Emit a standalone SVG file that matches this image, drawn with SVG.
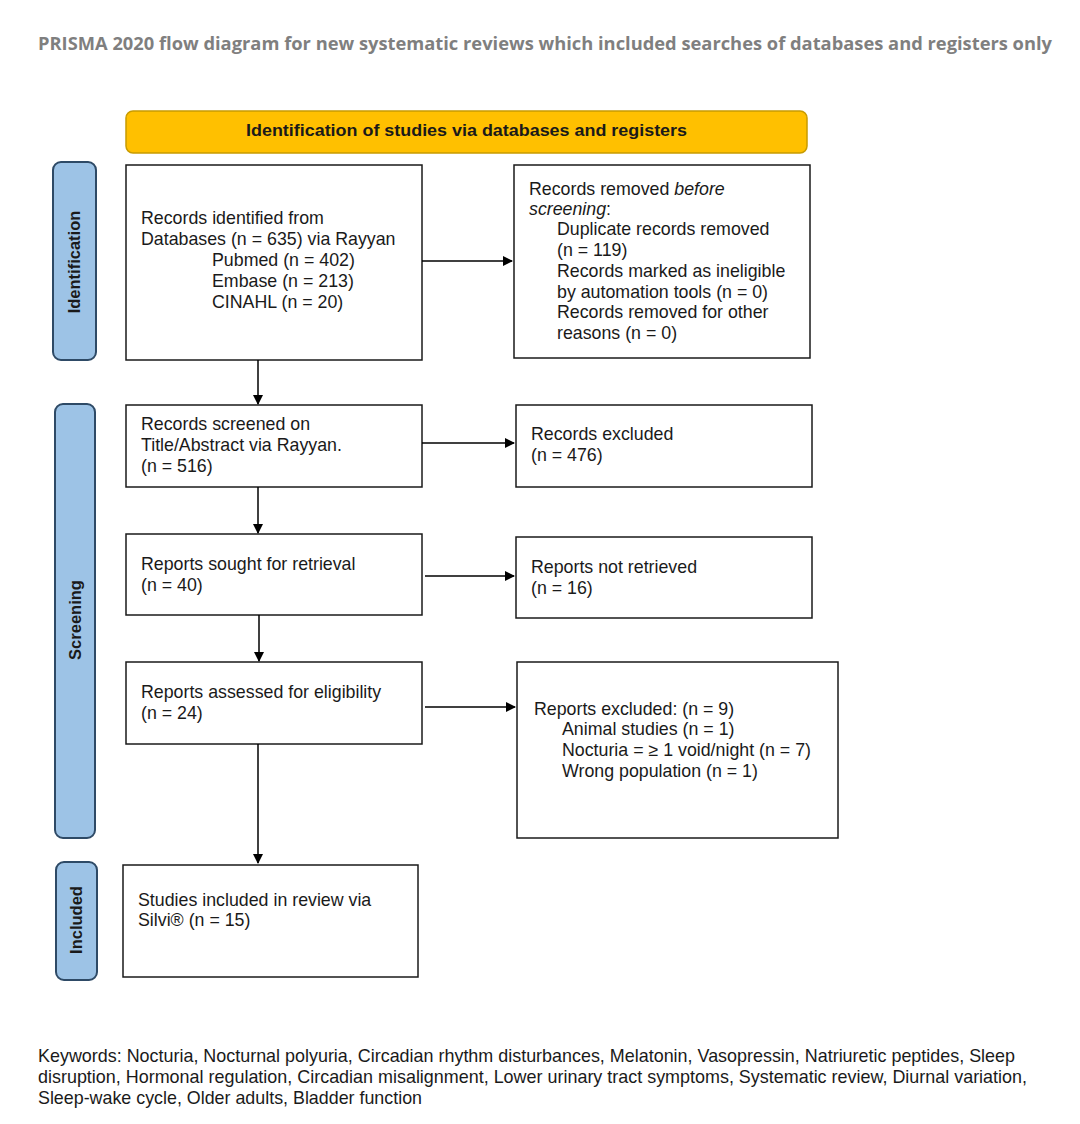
<svg xmlns="http://www.w3.org/2000/svg" width="1080" height="1124" viewBox="0 0 1080 1124">
<defs>
<style>
.t{font-family:"Liberation Sans",Arial,sans-serif;font-size:17.8px;fill:#1a1a1a}
.box{fill:#fff;stroke:#1a1a1a;stroke-width:1.5}
.side{fill:#9DC3E6;stroke:#2E4A66;stroke-width:2}
.sl{font-family:"Liberation Sans",Arial,sans-serif;font-size:16.5px;font-weight:bold;fill:#1a1a1a;text-anchor:middle}
.con{stroke:#000;stroke-width:1.5;fill:none;marker-end:url(#ah)}
</style>
<marker id="ah" markerWidth="10" markerHeight="10" refX="9" refY="5" orient="auto" markerUnits="userSpaceOnUse">
<path d="M0,0 L10,5 L0,10 Z" fill="#000"/>
</marker>
</defs>
<rect width="1080" height="1124" fill="#fff"/>
<text x="38" y="50" font-family="'Open Sans',sans-serif" font-size="17.5" font-weight="bold" fill="#7f7f7f" textLength="1014" lengthAdjust="spacingAndGlyphs">PRISMA 2020 flow diagram for new systematic reviews which included searches of databases and registers only</text>

<g id="banner">
<rect x="126" y="111" width="681" height="42" rx="7" fill="#FFC000" stroke="#C89B00" stroke-width="1.5"/>
<text x="466.5" y="136" font-family="'Liberation Sans',Arial,sans-serif" font-size="16.5" font-weight="bold" fill="#1a1a1a" text-anchor="middle" textLength="441" lengthAdjust="spacingAndGlyphs">Identification of studies via databases and registers</text>
</g>

<g id="side-identification">
<rect class="side" x="53" y="162" width="43" height="198" rx="8"/>
<text class="sl" transform="translate(80,262) rotate(-90)">Identification</text>
</g>
<g id="side-screening">
<rect class="side" x="55" y="404" width="40" height="434" rx="8"/>
<text class="sl" transform="translate(81,620) rotate(-90)">Screening</text>
</g>
<g id="side-included">
<rect class="side" x="56" y="862" width="41" height="118" rx="8"/>
<text class="sl" transform="translate(82,920) rotate(-90)">Included</text>
</g>

<g id="records-identified">
<rect class="box" x="126" y="165" width="296" height="195"/>
<text class="t" x="141" y="224">Records identified from</text>
<text class="t" x="141" y="245">Databases (n = 635) via Rayyan</text>
<text class="t" x="212" y="266">Pubmed (n = 402)</text>
<text class="t" x="212" y="287">Embase (n = 213)</text>
<text class="t" x="212" y="308">CINAHL (n = 20)</text>
</g>

<g id="records-removed">
<rect class="box" x="514" y="165" width="296" height="193"/>
<text class="t" x="529" y="195">Records removed <tspan font-style="italic">before</tspan></text>
<text class="t" x="529" y="215"><tspan font-style="italic">screening</tspan>:</text>
<text class="t" x="557" y="235">Duplicate records removed</text>
<text class="t" x="557" y="256">(n = 119)</text>
<text class="t" x="557" y="277">Records marked as ineligible</text>
<text class="t" x="557" y="298">by automation tools (n = 0)</text>
<text class="t" x="557" y="318">Records removed for other</text>
<text class="t" x="557" y="339">reasons (n = 0)</text>
</g>

<g id="records-screened">
<rect class="box" x="126" y="405" width="296" height="82"/>
<text class="t" x="141" y="430">Records screened on</text>
<text class="t" x="141" y="451">Title/Abstract via Rayyan.</text>
<text class="t" x="141" y="472">(n = 516)</text>
</g>

<g id="records-excluded">
<rect class="box" x="516" y="405" width="296" height="82"/>
<text class="t" x="531" y="440">Records excluded</text>
<text class="t" x="531" y="461">(n = 476)</text>
</g>

<g id="reports-sought">
<rect class="box" x="126" y="534" width="296" height="81"/>
<text class="t" x="141" y="570">Reports sought for retrieval</text>
<text class="t" x="141" y="591">(n = 40)</text>
</g>

<g id="reports-not-retrieved">
<rect class="box" x="516" y="537" width="296" height="81"/>
<text class="t" x="531" y="573">Reports not retrieved</text>
<text class="t" x="531" y="594">(n = 16)</text>
</g>

<g id="reports-assessed">
<rect class="box" x="126" y="662" width="296" height="82"/>
<text class="t" x="141" y="698">Reports assessed for eligibility</text>
<text class="t" x="141" y="719">(n = 24)</text>
</g>

<g id="reports-excluded">
<rect class="box" x="517" y="662" width="321" height="176"/>
<text class="t" x="534" y="715">Reports excluded: (n = 9)</text>
<text class="t" x="562" y="735">Animal studies (n = 1)</text>
<text class="t" x="562" y="756">Nocturia = ≥ 1 void/night (n = 7)</text>
<text class="t" x="562" y="777">Wrong population (n = 1)</text>
</g>

<g id="studies-included">
<rect class="box" x="123" y="865" width="295" height="112"/>
<text class="t" x="138" y="906">Studies included in review via</text>
<text class="t" x="138" y="926">Silvi® (n = 15)</text>
</g>

<g id="connectors">
<line class="con" x1="422" y1="261" x2="512" y2="261"/>
<line class="con" x1="258" y1="360" x2="258" y2="404"/>
<line class="con" x1="422" y1="443" x2="514" y2="443"/>
<line class="con" x1="258" y1="487" x2="258" y2="533"/>
<line class="con" x1="425" y1="576" x2="514" y2="576"/>
<line class="con" x1="259" y1="615" x2="259" y2="661"/>
<line class="con" x1="425" y1="707" x2="515" y2="707"/>
<line class="con" x1="258" y1="744" x2="258" y2="863"/>
</g>

<g id="keywords">
<text class="t" x="38" y="1062" font-size="16.5" textLength="977" lengthAdjust="spacingAndGlyphs">Keywords: Nocturia, Nocturnal polyuria, Circadian rhythm disturbances, Melatonin, Vasopressin, Natriuretic peptides, Sleep</text>
<text class="t" x="38" y="1083" font-size="16.5" textLength="989" lengthAdjust="spacingAndGlyphs">disruption, Hormonal regulation, Circadian misalignment, Lower urinary tract symptoms, Systematic review, Diurnal variation,</text>
<text class="t" x="38" y="1104" font-size="16.5" textLength="384" lengthAdjust="spacingAndGlyphs">Sleep-wake cycle, Older adults, Bladder function</text>
</g>
</svg>
